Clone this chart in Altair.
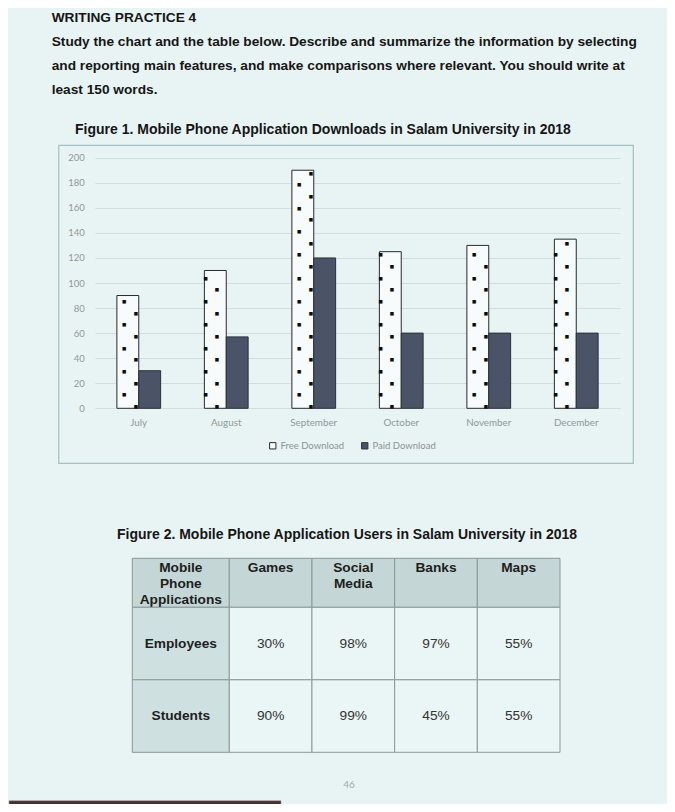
import json
import altair as alt
import pandas as pd

# ---------------- data ----------------
months = ["July", "August", "September", "October", "November", "December"]
free_downloads = [90, 110, 190, 125, 130, 135]
paid_downloads = [30, 57, 120, 60, 60, 60]
series = ["Free Download", "Paid Download"]
y_ticks = [0, 20, 40, 60, 80, 100, 120, 140, 160, 180, 200]

apps = ["Games", "Social Media", "Banks", "Maps"]
app_headers = ["Games", "Social\nMedia", "Banks", "Maps"]
groups = ["Employees", "Students"]
employees_pct = [30, 98, 97, 55]
students_pct = [90, 99, 45, 55]
corner_label = "Mobile\nPhone\nApplications"

heading = "WRITING PRACTICE 4"
instructions = [
    "Study the chart and the table below. Describe and summarize the information by selecting",
    "and reporting main features, and make comparisons where relevant. You should write at",
    "least 150 words.",
]
fig1_title = "Figure 1. Mobile Phone Application Downloads in Salam University in 2018"
fig2_title = "Figure 2. Mobile Phone Application Users in Salam University in 2018"
page_number = "46"

# ---------------- styling ----------------
BG = "#e8f3f3"
SANS = "Liberation Sans, Arial, sans-serif"
LIGHT = "Lato, Open Sans, sans-serif"
TXT = "#161616"
W, H = 659, 796

one = alt.InlineData(values=[{}])

bars_df = pd.DataFrame({
    "month": months * 2,
    "series": [series[0]] * len(months) + [series[1]] * len(months),
    "value": free_downloads + paid_downloads,
})
free_df = pd.DataFrame({"month": months, "series": series[0], "value": free_downloads})

x_scale = alt.Scale(domain=months, range=[87, 612], paddingInner=0.5, paddingOuter=0.25)
xo_scale = alt.Scale(domain=series, paddingInner=0, paddingOuter=0)
y_scale = alt.Scale(domain=[0, 200], range=[400.3, 149.7], nice=False)

x_axis = alt.Axis(orient="bottom", offset=-395.7, title=None, domain=False, ticks=False,
                  tickSize=0, labelPadding=9.5, labelFont=LIGHT, labelFontSize=9.8,
                  labelColor="#8f9a9a", labelAngle=0, grid=False)
y_axis = alt.Axis(orient="left", offset=-87, values=y_ticks, title=None, domain=False,
                  ticks=False, tickSize=0, labelPadding=10.7, labelFont=LIGHT,
                  labelFontSize=9.5, labelColor="#8f9a9a", grid=True,
                  gridColor="#d0dddd", gridWidth=1)
legend = alt.Legend(orient="none", legendX=260, legendY=433, direction="horizontal",
                    title=None, symbolType="square", symbolSize=40, symbolStrokeWidth=1,
                    labelFont=LIGHT, labelFontSize=9.5, labelColor="#8a9494",
                    labelOffset=3, columnPadding=14, padding=0, columns=2)

bars = alt.Chart(bars_df).mark_bar(strokeWidth=1).encode(
    x=alt.X("month:N", scale=x_scale, axis=x_axis),
    xOffset=alt.XOffset("series:N", scale=xo_scale),
    y=alt.Y("value:Q", scale=y_scale, axis=y_axis),
    color=alt.Color("series:N", scale=alt.Scale(domain=series, range=["#f7fbfb", "#4a5466"]), legend=legend),
    stroke=alt.Stroke("series:N", scale=alt.Scale(domain=series, range=["#2a2a2a", "#2b303b"]), legend=legend),
)


def dot_layer(parity, col, dx):
    # dotted fill pattern of the "Free Download" bars
    return (
        alt.Chart(free_df)
        .transform_calculate(dot="sequence(1.6, datum.value - 2, 9.3)")
        .transform_flatten(["dot"])
        .transform_calculate(
            col="round((datum.dot - 1.6) / 9.3) % 2",
            mpar="indexof(" + json.dumps(months) + ", datum.month) % 2",
        )
        .transform_filter(f"datum.col == {col} && datum.mpar == {parity}")
        .mark_text(font="DejaVu Sans", fontSize=4.6, color="#0c0c0c", align="center",
                   baseline="middle", dx=dx, dy=0.6)
        .encode(
            x=alt.X("month:N", scale=x_scale, axis=x_axis),
            xOffset=alt.XOffset("series:N", scale=xo_scale),
            y=alt.Y("dot:Q", scale=y_scale, axis=y_axis),
            text=alt.value("\u25a0"),
        )
    )


bar_group = alt.layer(
    bars,
    dot_layer(0, 1, -3.7), dot_layer(0, 0, 8),
    dot_layer(1, 1, -9.6), dot_layer(1, 0, 1.5),
)

frame = alt.Chart(one).mark_rect(filled=False, stroke="#a3c0c2", strokeWidth=1.2).encode(
    x=alt.value(50.8), x2=alt.value(625.3), y=alt.value(137.3), y2=alt.value(455.3)
)

# ---------------- table ----------------
TSTROKE = "#8c9898"
col0_range = [124.3, 221.3]
cols_range = [221.3, 552]
head_range = [550.3, 599.3]
body_range = [599.3, 744.3]

corner_df = pd.DataFrame({"c": ["corner"], "r": ["head"], "label": [corner_label]})
header_df = pd.DataFrame({"app": apps, "r": "head", "label": app_headers})
rowlab_df = pd.DataFrame({"c": "corner", "group": groups, "label": groups})
body_df = pd.DataFrame({
    "app": apps * 2,
    "group": [groups[0]] * len(apps) + [groups[1]] * len(apps),
    "pct": employees_pct + students_pct,
})


def block(df, xf, xdom, xr, yf, ydom, yr, fill, weight, top, color, calc=None):
    xs = alt.Scale(domain=xdom, range=xr, paddingInner=0, paddingOuter=0)
    ys = alt.Scale(domain=ydom, range=yr, paddingInner=0, paddingOuter=0)
    base = alt.Chart(df)
    if calc:
        base = base.transform_calculate(label=calc)
    rect = base.mark_rect(fill=fill, stroke=TSTROKE, strokeWidth=1).encode(
        x=alt.X(f"{xf}:N", scale=xs, axis=None),
        y=alt.Y(f"{yf}:N", scale=ys, axis=None),
    )
    txt = base.mark_text(
        font=SANS, fontSize=13.7, fontWeight=weight, color=color, align="center",
        baseline="top" if top else "middle", lineBreak="\n", lineHeight=16,
        dy=2.5 if top else 0,
    ).encode(
        x=alt.X(f"{xf}:N", scale=xs, axis=None),
        y=alt.Y(f"{yf}:N", scale=ys, axis=None, bandPosition=0 if top else 0.5),
        text="label:N",
    )
    return alt.layer(rect, txt)


corner_block = block(corner_df, "c", ["corner"], col0_range, "r", ["head"], head_range,
                     "#c4d6d6", "bold", True, "#1e1e1e")
header_block = block(header_df, "app", apps, cols_range, "r", ["head"], head_range,
                     "#c4d6d6", "bold", True, "#1e1e1e")
rowlab_block = block(rowlab_df, "c", ["corner"], col0_range, "group", groups, body_range,
                     "#cfe0e0", "bold", False, "#1e1e1e")
body_block = block(body_df, "app", apps, cols_range, "group", groups, body_range,
                   "#eaf5f5", "normal", False, "#333333", calc="datum.pct + '%'")

# ---------------- page texts ----------------
heading_t = alt.Chart(one).mark_text(font=SANS, fontSize=13.7, fontWeight="bold", color=TXT,
                                     align="left", baseline="alphabetic").encode(
    x=alt.value(43.7), y=alt.value(13.7), text=alt.value(heading))
instr_t = alt.Chart(one).mark_text(font=SANS, fontSize=13.7, fontWeight="bold", color=TXT,
                                   align="left", baseline="alphabetic", lineHeight=24).encode(
    x=alt.value(43.7), y=alt.value(37.6), text=alt.value(instructions))
fig1_t = alt.Chart(one).mark_text(font=SANS, fontSize=14, fontWeight="bold", color=TXT,
                                  align="left", baseline="alphabetic").encode(
    x=alt.value(67), y=alt.value(126.3), text=alt.value(fig1_title))
fig2_t = alt.Chart(one).mark_text(font=SANS, fontSize=14, fontWeight="bold", color=TXT,
                                  align="center", baseline="alphabetic").encode(
    x=alt.value(339), y=alt.value(531.3), text=alt.value(fig2_title))
page_t = alt.Chart(one).mark_text(font=LIGHT, fontSize=10, color="#a2abab",
                                  align="center", baseline="middle").encode(
    x=alt.value(341), y=alt.value(777), text=alt.value(page_number))
bottom_bar = alt.Chart(one).mark_rect(fill="#4a2f31", stroke="#9a9a9a", strokeWidth=0.6).encode(
    x=alt.value(1), x2=alt.value(273), y=alt.value(792.7), y2=alt.value(805))

chart = (
    alt.layer(frame, bar_group, corner_block, header_block, rowlab_block, body_block,
              heading_t, instr_t, fig1_t, fig2_t, page_t, bottom_bar)
    .resolve_scale(x="independent", y="independent", color="independent", stroke="independent")
    .properties(width=W, height=H, autosize=alt.AutoSizeParams(type="none"), padding=0)
    .configure(background=BG)
    .configure_view(stroke=None)
)

chart.save("out.html", embed_options={"renderer": "svg", "actions": False})
